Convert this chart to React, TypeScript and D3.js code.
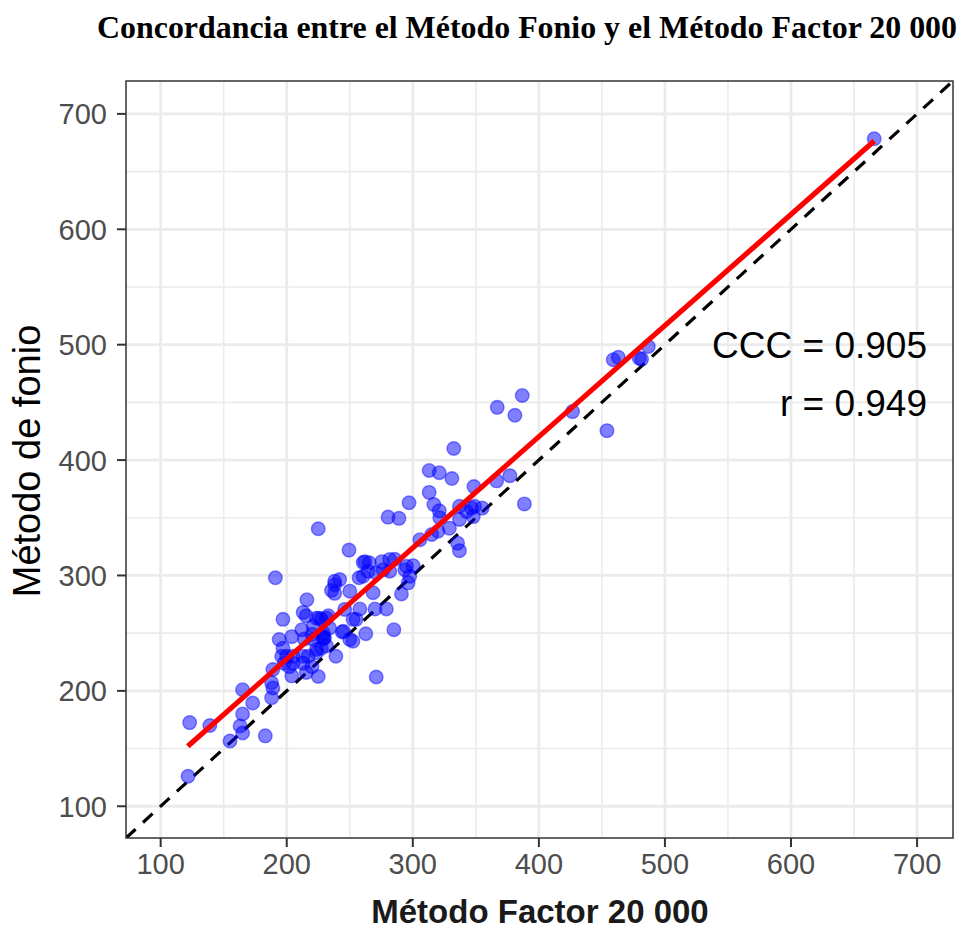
import React from "react";
import { scaleLinear, line } from "d3";

// Método Factor 20 000 (x) vs Método de fonio (y)
const factorValues = [
  121.7, 123, 139, 155, 163, 165, 165, 165, 173, 183, 188, 188, 189, 189,
  191, 194, 196, 197, 197, 198, 200, 202, 204, 204, 205, 205, 212, 213,
  213, 213, 214, 215.5, 215.5, 216, 217, 220, 220, 221, 221, 223.6, 223.6,
  223.6, 225, 225, 226, 227.5, 227.5, 229, 229, 229, 231.5, 231.5, 230,
  233, 234, 235.5, 238, 238, 238, 239, 242, 244, 245, 246, 249.4, 250,
  250, 252.5, 252.6, 255, 257.4, 258, 260.6, 260.6, 262, 262.7, 264.5,
  265.5, 268.5, 270, 271, 271, 275.5, 276.4, 279, 280.4, 281.7, 281.7,
  285, 285.7, 289, 291, 293.7, 295, 296.3, 297.6, 297, 300.2, 305.6, 313,
  313, 315, 316.7, 320, 321, 321, 321.4, 329, 331, 332.5, 335.5, 337, 337,
  337, 342.6, 346.6, 348, 348.5, 349, 355, 366.5, 367, 377, 381, 386.8,
  388.5, 426.7, 454, 459, 463, 479.6, 481.5, 486.8, 666
];
const fonioValues = [
  126, 172.5, 170, 156.5, 169.5, 163.5, 180, 201, 189.5, 161, 194, 207,
  202.5, 218.5, 298, 244.5, 230, 262, 237, 224, 230, 221, 213, 247, 224,
  230, 253, 268, 224, 230, 245, 265, 216, 279, 230, 249, 221, 256, 244.5,
  233, 263, 236, 212.5, 340.5, 263, 237, 262, 247, 245, 250, 263, 239, 246,
  265, 254.5, 287, 292, 284.5, 295, 230, 296.5, 251, 251.6, 270.6, 322,
  286.4, 244.6, 243, 262, 262, 298, 271, 299.4, 311.3, 312, 249.5, 303.7,
  311, 285, 271, 302, 212, 312, 305, 271, 350.6, 313.9, 303.7, 253, 314,
  349.5, 284, 305, 308, 293.6, 299.4, 363, 308.5, 331, 391, 372, 335.5,
  361.5, 338.3, 389, 356, 350, 341, 384, 410, 328, 321.5, 360, 348.5,
  355.5, 358.4, 351, 377, 360, 358.4, 382, 445.7, 386.5, 438.8, 456, 362,
  442, 425.5, 487, 489, 488.3, 487.5, 498.4, 678.4
];

// fitted regression line (end points)
const fitX = [121.5, 666];
const fitY = [152, 676.5];

const majorTicks = [100, 200, 300, 400, 500, 600, 700];
const minorTicks = [150, 250, 350, 450, 550, 650];
const domainLimits = [72.5, 728.5];

const statLabels = ["CCC = 0.905", "r = 0.949"];

const points = factorValues.map((x, i) => ({ x, y: fonioValues[i] }));

export default function App() {
  const panel = { left: 126, right: 953, top: 81, bottom: 838 };
  const x = scaleLinear().domain(domainLimits).range([panel.left, panel.right]);
  const y = scaleLinear().domain(domainLimits).range([panel.bottom, panel.top]);

  const pathGen = line<[number, number]>()
    .x(d => x(d[0]))
    .y(d => y(d[1]));

  const identity = pathGen(domainLimits.map(v => [v, v] as [number, number]));
  const fit = pathGen(fitX.map((v, i) => [v, fitY[i]] as [number, number]));

  const grid = "#ebebeb";
  const tickText = "#4d4d4d";
  const sans = "'Liberation Sans', Arial, Helvetica, sans-serif";

  return (
    <svg
      width={962}
      height={930}
      style={{ position: "absolute", left: 0, top: 0, background: "#fff" }}
    >
      <defs>
        <clipPath id="panel-clip">
          <rect
            x={panel.left}
            y={panel.top}
            width={panel.right - panel.left}
            height={panel.bottom - panel.top}
          />
        </clipPath>
      </defs>

      <text
        x={527}
        y={38}
        textAnchor="middle"
        fontFamily="'Liberation Serif', 'Times New Roman', serif"
        fontWeight="bold"
        fontSize={31}
        textLength={860}
        lengthAdjust="spacingAndGlyphs"
        fill="#000"
      >
        Concordancia entre el Método Fonio y el Método Factor 20 000
      </text>

      {/* grid */}
      <g>
        {minorTicks.map(t => (
          <g key={"mn" + t}>
            <line x1={x(t)} x2={x(t)} y1={panel.top} y2={panel.bottom} stroke={grid} strokeWidth={1.6} />
            <line y1={y(t)} y2={y(t)} x1={panel.left} x2={panel.right} stroke={grid} strokeWidth={1.6} />
          </g>
        ))}
        {majorTicks.map(t => (
          <g key={"mj" + t}>
            <line x1={x(t)} x2={x(t)} y1={panel.top} y2={panel.bottom} stroke={grid} strokeWidth={2.8} />
            <line y1={y(t)} y2={y(t)} x1={panel.left} x2={panel.right} stroke={grid} strokeWidth={2.8} />
          </g>
        ))}
      </g>

      <g clipPath="url(#panel-clip)">
        <path d={identity || ""} stroke="#000" strokeWidth={3.2} strokeDasharray="13 10" fill="none" />
        {points.map((p, i) => (
          <circle
            key={i}
            cx={x(p.x)}
            cy={y(p.y)}
            r={6.8}
            fill="#0000ff"
            fillOpacity={0.5}
            stroke="#0000ff"
            strokeOpacity={0.45}
            strokeWidth={1.4}
          />
        ))}
        <path d={fit || ""} stroke="#ff0000" strokeWidth={5.2} fill="none" />
      </g>

      {statLabels.map((s, i) => (
        <text
          key={s}
          x={927}
          y={358 + i * 58}
          textAnchor="end"
          fontFamily={sans}
          fontSize={37}
          fill="#000"
        >
          {s}
        </text>
      ))}

      <rect
        x={panel.left}
        y={panel.top}
        width={panel.right - panel.left}
        height={panel.bottom - panel.top}
        fill="none"
        stroke="#333"
        strokeWidth={1.5}
      />

      {/* axes */}
      {majorTicks.map(t => (
        <g key={"ax" + t}>
          <line x1={x(t)} x2={x(t)} y1={panel.bottom} y2={panel.bottom + 9} stroke="#333" strokeWidth={2} />
          <text x={x(t)} y={874} textAnchor="middle" fontFamily={sans} fontSize={29} fill={tickText}>
            {t}
          </text>
          <line x1={panel.left - 9} x2={panel.left} y1={y(t)} y2={y(t)} stroke="#333" strokeWidth={2} />
          <text x={107} y={y(t) + 10.5} textAnchor="end" fontFamily={sans} fontSize={29} fill={tickText}>
            {t}
          </text>
        </g>
      ))}

      <text
        x={540}
        y={923}
        textAnchor="middle"
        fontFamily={sans}
        fontWeight="bold"
        fontSize={33}
        fill="#1a1a1a"
      >
        Método Factor 20 000
      </text>
      <text
        transform={`translate(40, 461) rotate(-90)`}
        textAnchor="middle"
        fontFamily={sans}
        fontSize={38}
        fill="#000"
      >
        Método de fonio
      </text>
    </svg>
  );
}
